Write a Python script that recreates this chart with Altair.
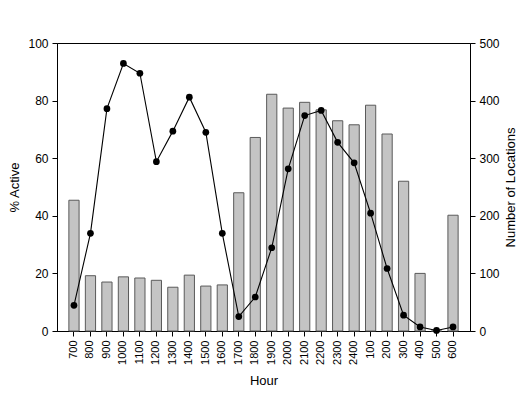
import altair as alt
import pandas as pd

hours = ["700", "800", "900", "1000", "1100", "1200", "1300", "1400", "1500", "1600",
         "1700", "1800", "1900", "2000", "2100", "2200", "2300", "2400", "100", "200",
         "300", "400", "500", "600"]
locations = [227, 96, 85, 94, 92, 88, 76, 97, 78, 80, 240, 336, 411, 387, 397, 384,
             365, 358, 392, 342, 260, 100, 0, 201]
pct_active = [8.9, 33.9, 77.2, 92.9, 89.5, 58.8, 69.4, 81.2, 69.0, 33.9, 5.0, 11.8,
              28.9, 56.3, 74.8, 76.6, 65.5, 58.4, 40.9, 21.7, 5.5, 1.4, 0.2, 1.4]

df = pd.DataFrame({"Hour": hours, "Locations": locations, "Active": pct_active})

FONT = "Liberation Sans"
common = dict(domainColor="black", tickColor="black", labelColor="black",
              titleColor="black", titleFontWeight="normal", labelFont=FONT,
              titleFont=FONT, tickSize=5, labelPadding=4, titleFontSize=13)

x = alt.X("Hour:N", sort=hours, title="Hour",
          scale=alt.Scale(paddingInner=0.38, paddingOuter=0.72),
          axis=alt.Axis(labelAngle=270, labelAlign="right", labelBaseline="middle",
                        labelFontSize=11, titlePadding=10, **common))

bars = alt.Chart(df).mark_bar(color="#c4c4c4", stroke="#5a5a5a", strokeWidth=1).encode(
    x=x,
    y=alt.Y("Locations:Q", title="Number of Locations",
            scale=alt.Scale(domain=[0, 500], nice=False),
            axis=alt.Axis(orient="right", values=[0, 100, 200, 300, 400, 500], grid=False,
                          titleAngle=270, titleBaseline="top", titlePadding=5,
                          labelFontSize=12, **common)),
)

line = alt.Chart(df).mark_line(color="black", strokeWidth=1.1, point=alt.OverlayMarkDef(
    filled=True, color="black", size=45, opacity=1)).encode(
    x=x,
    y=alt.Y("Active:Q", title="% Active",
            scale=alt.Scale(domain=[0, 100], nice=False),
            axis=alt.Axis(orient="left", values=[0, 20, 40, 60, 80, 100], grid=False,
                          titlePadding=6, labelFontSize=12, **common)),
)

chart = alt.layer(bars, line).resolve_scale(y="independent").properties(
    width=413, height=288,
    autosize="none",
    background="white",
    padding={"left": 49, "top": 35, "right": 49, "bottom": 56},
).configure_view(stroke="black", strokeWidth=1)

chart.save("out.html", embed_options={"renderer": "svg", "actions": False})
